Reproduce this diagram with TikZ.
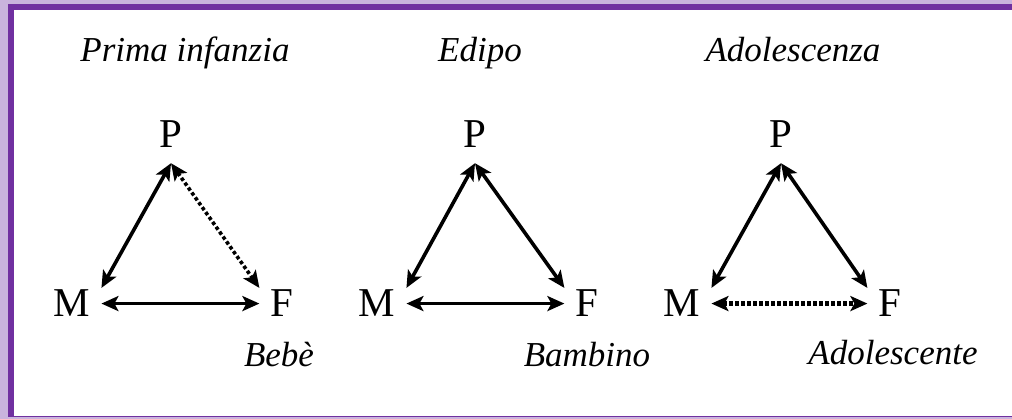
\documentclass[tikz,border=0pt]{standalone}
\usepackage{fontspec}
\setmainfont{Liberation Serif}
\usetikzlibrary{arrows.meta,positioning}
\definecolor{framedark}{HTML}{7030A0}
\definecolor{framelight}{HTML}{C9B3DD}

\begin{document}
\begin{tikzpicture}[
    x=1pt, y=-1pt,
    >={Stealth[length=17pt,width=15pt,inset=4pt]},
    vertex/.style={font=\fontsize{41}{48}\selectfont, inner xsep=11pt, inner ysep=2pt, anchor=base},
    phase/.style={font=\fontsize{35}{42}\selectfont\itshape, anchor=base},
    arr/.style={<->, line width=3.6pt},
    arrdot/.style={<->, line width=3.6pt, dash pattern=on 3.5pt off 2.5pt},
    arrdash/.style={<->, line width=5.5pt, dash pattern=on 4pt off 2pt},
]
\useasboundingbox (0,0) rectangle (1012,419);

% --- Frame ---
\fill[framelight] (0,0) rectangle (1012,419);
\fill[framedark] (8,4) rectangle (1012,417);
\fill[white] (14,10) rectangle (1012,416);

% --- Prima infanzia ---
\node[phase] (t1) at (185,62) {Prima infanzia};
\node[vertex] (p1) at (171,148) {P};
\node[vertex] (m1) at (72,317) {M};
\node[vertex] (f1) at (282,317) {F};
\node[phase] (c1) at (279,367) {Bebè};
\coordinate (p1b) at ([yshift=-13pt]p1.south);

\draw[arr] (p1b) -- (m1.north east);
\draw[arr] (m1.east) -- (f1.west);
\draw[arrdot] (p1b) -- (f1.north west);

% --- Edipo ---
\node[phase] (t2) at (480,62) {Edipo};
\node[vertex] (p2) at (475,148) {P};
\node[vertex] (m2) at (377,317) {M};
\node[vertex] (f2) at (587,317) {F};
\node[phase] (c2) at (587,367) {Bambino};
\coordinate (p2b) at ([yshift=-13pt]p2.south);

\draw[arr] (p2b) -- (m2.north east);
\draw[arr] (m2.east) -- (f2.west);
\draw[arr] (p2b) -- (f2.north west);

% --- Adolescenza ---
\node[phase] (t3) at (793,62) {Adolescenza};
\node[vertex] (p3) at (781,148) {P};
\node[vertex] (m3) at (682,317) {M};
\node[vertex] (f3) at (890,317) {F};
\node[phase] (c3) at (893,365) {Adolescente};
\coordinate (p3b) at ([yshift=-13pt]p3.south);

\draw[arr] (p3b) -- (m3.north east);
\draw[arr] (p3b) -- (f3.north west);
\draw[arrdash] (m3.east) -- (f3.west);

\end{tikzpicture}
\end{document}
